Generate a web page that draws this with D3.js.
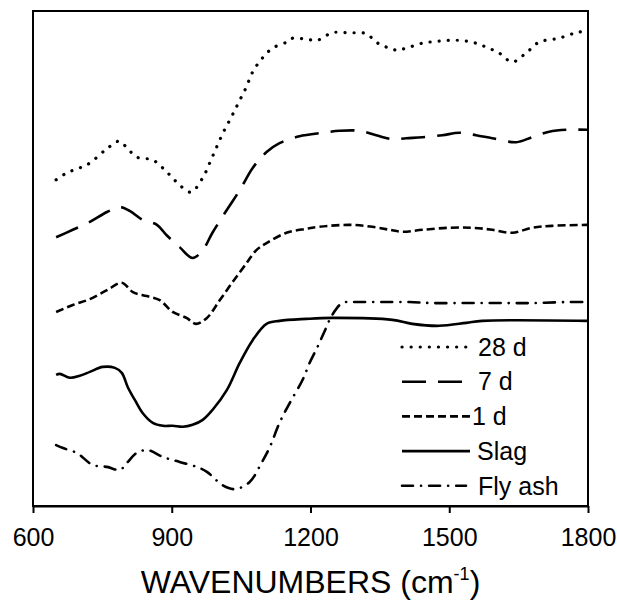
<!DOCTYPE html>
<html>
<head>
<meta charset="utf-8">
<script src="https://cdn.jsdelivr.net/npm/d3@7"></script>
<style>
  body { margin: 0; background: #fff; }
  svg { font-family: 'Liberation Sans', Arial, sans-serif; }
</style>
</head>
<body>
<svg id="chart"></svg>
<script>
const width = 617
const height = 601

// spectra: [wavenumber, absorbance (arb. units)]
const day28 = [
  [650, 65.9], [673, 67.3], [701, 68.3], [723, 69.3], [759, 72.1], [786, 73.7],
  [802, 72.5], [824, 70.5], [859, 69.9], [885, 67.9], [910, 65.5], [941, 63.4],
  [967, 66.3], [982, 69.3], [996, 72.3], [1012, 75.6], [1029, 78.6], [1045, 81.6],
  [1061, 84.6], [1075, 87.7], [1096, 90.5], [1118, 92.5], [1148, 93.7], [1161, 94.5],
  [1191, 94.3], [1215, 94.1], [1247, 95.6], [1284, 95.6], [1321, 95.4], [1342, 93.7],
  [1364, 92.7], [1386, 92.1], [1407, 92.5], [1442, 93.5], [1478, 93.9], [1515, 94.1],
  [1550, 93.7], [1580, 92.7], [1608, 91.5], [1636, 89.7], [1666, 91.5], [1694, 93.7],
  [1737, 94.5], [1774, 95.6], [1798, 96.0]
]
const day7 = [
  [650, 54.3], [686, 55.8], [723, 57.4], [760, 59.4], [788, 60.4], [809, 59.6],
  [837, 57.8], [868, 56.8], [889, 54.7], [917, 52.3], [945, 50.1], [967, 51.7],
  [988, 55.2], [1019, 59.8], [1047, 63.8], [1075, 68.3], [1105, 71.5], [1133, 73.3],
  [1176, 74.7], [1226, 75.4], [1263, 75.8], [1306, 75.8], [1342, 74.9], [1377, 74.1],
  [1407, 74.3], [1442, 74.5], [1485, 74.9], [1522, 75.4], [1558, 74.9], [1593, 74.3],
  [1645, 73.5], [1679, 74.5], [1716, 75.6], [1753, 76.0], [1798, 76.0]
]
const day1 = [
  [650, 39.2], [686, 40.6], [723, 41.8], [760, 43.6], [792, 45.1], [816, 43.2],
  [846, 42.4], [874, 41.6], [902, 39.2], [932, 38.0], [952, 36.8], [976, 38.0],
  [1004, 41.6], [1032, 45.3], [1062, 49.1], [1083, 51.7], [1105, 53.1], [1148, 55.2],
  [1191, 56.0], [1219, 56.4], [1284, 56.8], [1334, 56.4], [1371, 55.8], [1399, 55.4],
  [1442, 55.8], [1500, 56.2], [1550, 56.2], [1593, 55.8], [1636, 55.2], [1679, 56.2],
  [1722, 56.6], [1798, 56.8]
]
const slag = [
  [650, 26.5], [658, 26.7], [680, 25.9], [701, 26.3], [723, 27.1], [751, 28.1],
  [777, 27.9], [792, 26.9], [805, 24.0], [824, 20.8], [837, 18.8], [859, 16.8],
  [881, 16.2], [902, 16.2], [924, 16.0], [945, 16.4], [967, 17.4], [988, 19.4],
  [1019, 23.4], [1047, 28.9], [1075, 33.5], [1105, 36.8], [1133, 37.4], [1191, 37.8],
  [1247, 38.0], [1377, 37.6], [1420, 36.8], [1478, 36.4], [1537, 37.0], [1571, 37.4],
  [1798, 37.4]
]
const flyAsh = [
  [650, 12.3], [665, 11.7], [695, 10.7], [729, 8.3], [760, 7.9], [788, 7.3],
  [803, 8.7], [824, 10.7], [848, 11.3], [881, 9.9], [917, 8.9], [954, 7.9],
  [976, 6.9], [1010, 4.2], [1036, 3.4], [1068, 4.8], [1094, 8.7], [1112, 11.9],
  [1133, 16.8], [1155, 20.8], [1183, 25.5], [1198, 28.9], [1215, 32.1], [1230, 35.2],
  [1247, 38.6], [1269, 41.0], [1306, 41.2], [1355, 41.2], [1414, 41.2], [1463, 41.0],
  [1537, 41.0], [1608, 41.0], [1679, 41.0], [1753, 41.2], [1798, 41.2]
]

const seriesNames = ['28 d', '7 d', '1 d', 'Slag', 'Fly ash']
const seriesData = [day28, day7, day1, slag, flyAsh]
const xTicks = [600, 900, 1200, 1500, 1800]

// line styles per series
const dashes = ['0.1,9', '24,12', '8,4', null, '11,8,0.1,8']
const caps = ['round', 'butt', 'butt', 'butt', 'round']

const svg = d3.select('#chart').attr('width', width).attr('height', height)

const x = d3.scaleLinear().domain([600, 1800]).range([33, 588])
const y = d3.scaleLinear().domain([0, 100]).range([506, 11])

const line = d3.line()
  .x(d => x(d[0]))
  .y(d => y(d[1]))
  .curve(d3.curveCatmullRom.alpha(0.5))

// frame
svg.append('rect')
  .attr('x', 33).attr('y', 11)
  .attr('width', 555).attr('height', 495)
  .attr('fill', 'none')
  .attr('stroke', '#000')
  .attr('stroke-width', 2)

// curves
svg.append('g')
  .selectAll('path')
  .data(seriesData)
  .join('path')
  .attr('d', line)
  .attr('fill', 'none')
  .attr('stroke', '#000')
  .attr('stroke-width', (d, i) => i === 0 ? 3.2 : 2.6)
  .attr('stroke-dasharray', (d, i) => dashes[i])
  .attr('stroke-linecap', (d, i) => caps[i])

// x axis
const xAxis = svg.append('g')
  .attr('transform', 'translate(0,506)')
  .call(d3.axisBottom(x).tickValues(xTicks).tickSize(7).tickSizeOuter(0).tickFormat(d3.format('d')))
xAxis.select('.domain').attr('stroke-width', 2)
xAxis.selectAll('.tick line').attr('stroke-width', 2)
xAxis.selectAll('.tick text')
  .attr('y', 22)
  .attr('font-size', 25)
  .attr('font-family', "'Liberation Sans', Arial, sans-serif")
  .attr('fill', '#000')

// axis title
const title = svg.append('text')
  .attr('x', 310.5)
  .attr('y', 593)
  .attr('text-anchor', 'middle')
  .attr('font-size', 32)
title.append('tspan').text('WAVENUMBERS (cm')
title.append('tspan').attr('font-size', 18).attr('dy', -13).text('-1')
title.append('tspan').attr('dy', 13).text(')')

// legend
const legend = svg.append('g')
  .selectAll('g')
  .data(seriesNames)
  .join('g')
  .attr('transform', (d, i) => `translate(402,${347 + i * 34.7})`)

legend.append('line')
  .attr('x1', 0).attr('x2', (d, i) => [64, 60, 68, 68, 64][i])
  .attr('stroke', '#000')
  .attr('stroke-width', (d, i) => i === 0 ? 3.2 : 2.6)
  .attr('stroke-dasharray', (d, i) => dashes[i])
  .attr('stroke-linecap', (d, i) => caps[i])

legend.append('text')
  .attr('x', (d, i) => [76, 76, 70, 75, 76][i])
  .attr('dy', '0.35em')
  .attr('font-size', 25)
  .text(d => d)
</script>
</body>
</html>
